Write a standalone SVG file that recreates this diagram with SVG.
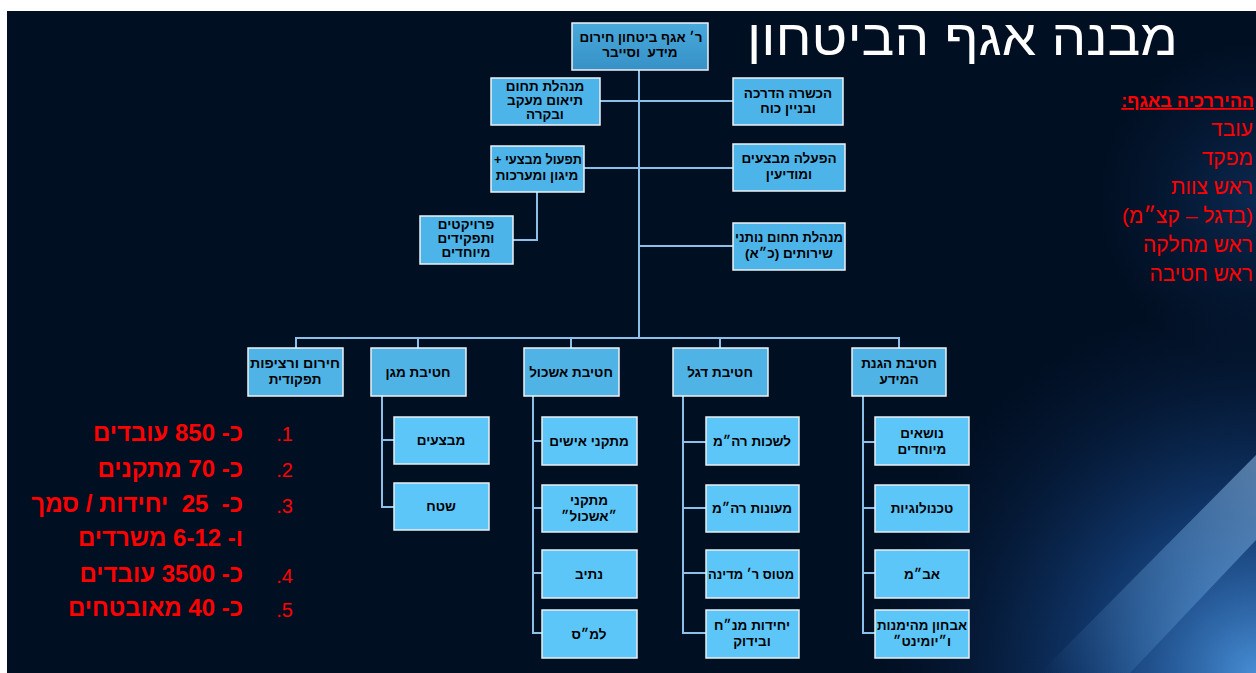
<svg xmlns="http://www.w3.org/2000/svg" width="1256" height="673" viewBox="0 0 1256 673">
<defs>
<radialGradient id="glow" cx="1256" cy="673" r="380" gradientUnits="userSpaceOnUse">
<stop offset="0" stop-color="#4f9be8" stop-opacity="0.9"/>
<stop offset="0.45" stop-color="#1f5cb0" stop-opacity="0.5"/>
<stop offset="1" stop-color="#0a2350" stop-opacity="0"/>
</radialGradient>
<linearGradient id="streak" x1="1040" y1="673" x2="1256" y2="470" gradientUnits="userSpaceOnUse">
<stop offset="0" stop-color="#6aaee8" stop-opacity="0"/>
<stop offset="0.6" stop-color="#7ab8f0" stop-opacity="0.35"/>
<stop offset="1" stop-color="#9ccaf5" stop-opacity="0.5"/>
</linearGradient>
<linearGradient id="topfill" x1="0" y1="0" x2="0" y2="1">
<stop offset="0" stop-color="#4aa9dc"/>
<stop offset="1" stop-color="#3591c6"/>
</linearGradient>
<radialGradient id="rightfade" cx="1256" cy="200" r="160" gradientUnits="userSpaceOnUse">
<stop offset="0" stop-color="#143e78" stop-opacity="0.55"/>
<stop offset="1" stop-color="#0b2a55" stop-opacity="0"/>
</radialGradient>
</defs>
<style>
.bx{fill:#4db4e9;stroke:#eef2f5;stroke-width:1.5}
.dv{fill:#4fb3e6;stroke:#eef2f5;stroke-width:1.5}
.sb{fill:#5cc6f9;stroke:#e8eef2;stroke-width:1.5}
.t{font-family:"Liberation Sans","DejaVu Sans",sans-serif;font-weight:bold;font-size:13.5px;fill:#000;text-anchor:middle;direction:rtl;unicode-bidi:embed}
.ln{stroke:#8cc0e8;stroke-width:2;fill:none}
.rl{font-family:"Liberation Sans","DejaVu Sans",sans-serif;font-size:21px;fill:#ff0000;direction:rtl;unicode-bidi:embed;text-anchor:start}
.rh{font-family:"Liberation Sans","DejaVu Sans",sans-serif;font-size:18px;font-weight:bold;fill:#ff0000;direction:rtl;unicode-bidi:embed;text-anchor:start;text-decoration:underline}
.ll{font-family:"Liberation Sans","DejaVu Sans",sans-serif;font-size:24px;font-weight:bold;fill:#ff0000;direction:rtl;unicode-bidi:embed;text-anchor:start}
.num{font-family:"Liberation Sans","DejaVu Sans",sans-serif;font-size:20px;fill:#ff0000;text-anchor:end}
</style>
<rect x="0" y="0" width="1256" height="673" fill="#ffffff"/>
<rect x="7" y="11" width="1249" height="662" fill="#010f22"/>
<rect x="1090" y="11" width="166" height="360" fill="url(#rightfade)"/>
<rect x="700" y="300" width="556" height="373" fill="url(#glow)"/>
<polygon points="1040,673 1256,455 1256,540 1130,673" fill="url(#streak)"/>

<text x="1178" y="55" font-family="'Liberation Sans','DejaVu Sans',sans-serif" font-size="50" fill="#ffffff" text-anchor="end" textLength="431" lengthAdjust="spacingAndGlyphs">מבנה אגף הביטחון</text>

<g id="connectors">
<line class="ln" x1="639" y1="70" x2="639" y2="338"/>
<line class="ln" x1="600" y1="101" x2="733" y2="101"/>
<line class="ln" x1="584" y1="168" x2="733" y2="168"/>
<polyline class="ln" points="537,192 537,240 513,240"/>
<line class="ln" x1="639" y1="246" x2="733" y2="246"/>
<line class="ln" x1="295" y1="338" x2="900" y2="338"/>
<line class="ln" x1="296" y1="338" x2="296" y2="348"/>
<line class="ln" x1="418" y1="338" x2="418" y2="348"/>
<line class="ln" x1="571" y1="338" x2="571" y2="348"/>
<line class="ln" x1="720" y1="338" x2="720" y2="348"/>
<line class="ln" x1="899" y1="338" x2="899" y2="348"/>
<polyline class="ln" points="382,396 382,507 394,507"/>
<line class="ln" x1="382" y1="440" x2="394" y2="440"/>
<polyline class="ln" points="533,396 533,633 542,633"/>
<line class="ln" x1="533" y1="441" x2="542" y2="441"/>
<line class="ln" x1="533" y1="508" x2="542" y2="508"/>
<line class="ln" x1="533" y1="573" x2="542" y2="573"/>
<polyline class="ln" points="683,396 683,633 706,633"/>
<line class="ln" x1="683" y1="442" x2="706" y2="442"/>
<line class="ln" x1="683" y1="508" x2="706" y2="508"/>
<line class="ln" x1="683" y1="573" x2="706" y2="573"/>
<polyline class="ln" points="863,396 863,633 875,633"/>
<line class="ln" x1="863" y1="442" x2="875" y2="442"/>
<line class="ln" x1="863" y1="508" x2="875" y2="508"/>
<line class="ln" x1="863" y1="573" x2="875" y2="573"/>
</g>

<g id="head">
<rect x="572" y="23" width="136" height="47" fill="url(#topfill)" stroke="#eef2f5" stroke-width="1.5"/>
<text class="t" x="641" y="42" textLength="123" lengthAdjust="spacingAndGlyphs">ר׳ אגף ביטחון חירום</text>
<text class="t" x="640" y="57" xml:space="preserve">מידע  וסייבר</text>
</g>
<g id="n-minhelet">
<rect class="bx" x="491" y="78" width="109" height="47"/>
<text class="t" x="545" y="91">מנהלת תחום</text>
<text class="t" x="545" y="105">תיאום מעקב</text>
<text class="t" x="545" y="119">ובקרה</text>
</g>
<g id="n-hachshara">
<rect class="bx" x="733" y="78" width="110" height="47"/>
<text class="t" x="788" y="98">הכשרה הדרכה</text>
<text class="t" x="788" y="113">ובניין כוח</text>
</g>
<g id="n-tiful">
<rect class="bx" x="491" y="146" width="93" height="46"/>
<text class="t" x="538" y="164" textLength="88" lengthAdjust="spacingAndGlyphs">תפעול מבצעי +</text>
<text class="t" x="537" y="180">מיגון ומערכות</text>
</g>
<g id="n-hafala">
<rect class="bx" x="733" y="144" width="112" height="47"/>
<text class="t" x="789" y="163">הפעלה מבצעים</text>
<text class="t" x="789" y="179">ומודיעין</text>
</g>
<g id="n-proyektim">
<rect class="bx" x="420" y="216" width="93" height="48"/>
<text class="t" x="466" y="229">פרויקטים</text>
<text class="t" x="466" y="243">ותפקידים</text>
<text class="t" x="466" y="257">מיוחדים</text>
</g>
<g id="n-notney">
<rect class="bx" x="733" y="223" width="112" height="47"/>
<text class="t" x="789" y="242" textLength="108" lengthAdjust="spacingAndGlyphs">מנהלת תחום נותני</text>
<text class="t" x="789" y="258">שירותים (כ״א)</text>
</g>

<g id="d-herum">
<rect class="dv" x="248" y="348" width="95" height="48"/>
<text class="t" x="295" y="368" textLength="90" lengthAdjust="spacingAndGlyphs">חירום ורציפות</text>
<text class="t" x="295" y="384">תפקודית</text>
</g>
<g id="d-magen">
<rect class="dv" x="371" y="348" width="95" height="48"/>
<text class="t" x="418" y="377">חטיבת מגן</text>
</g>
<g id="d-eshkol">
<rect class="dv" x="524" y="348" width="95" height="48"/>
<text class="t" x="571" y="377">חטיבת אשכול</text>
</g>
<g id="d-degel">
<rect class="dv" x="673" y="348" width="95" height="48"/>
<text class="t" x="720" y="377">חטיבת דגל</text>
</g>
<g id="d-hagana">
<rect class="dv" x="852" y="348" width="94" height="48"/>
<text class="t" x="899" y="368">חטיבת הגנת</text>
<text class="t" x="899" y="384">המידע</text>
</g>

<g id="s-mivtzaim"><rect class="sb" x="394" y="417" width="95" height="47"/><text class="t" x="441" y="445">מבצעים</text></g>
<g id="s-shetah"><rect class="sb" x="394" y="483" width="95" height="47"/><text class="t" x="441" y="511">שטח</text></g>

<g id="s-ishim"><rect class="sb" x="542" y="417" width="95" height="48"/><text class="t" x="589" y="446">מתקני אישים</text></g>
<g id="s-mitkaney"><rect class="sb" x="542" y="485" width="95" height="47"/><text class="t" x="589" y="505">מתקני</text><text class="t" x="589" y="521">״אשכול״</text></g>
<g id="s-nativ"><rect class="sb" x="542" y="550" width="95" height="48"/><text class="t" x="589" y="579">נתיב</text></g>
<g id="s-lamas"><rect class="sb" x="542" y="610" width="95" height="48"/><text class="t" x="589" y="639">למ״ס</text></g>

<g id="s-lishkot"><rect class="sb" x="706" y="417" width="93" height="48"/><text class="t" x="752" y="446">לשכות רה״מ</text></g>
<g id="s-meonot"><rect class="sb" x="706" y="485" width="93" height="47"/><text class="t" x="752" y="513">מעונות רה״מ</text></g>
<g id="s-matos"><rect class="sb" x="706" y="550" width="93" height="48"/><text class="t" x="751" y="579" textLength="86" lengthAdjust="spacingAndGlyphs">מטוס ר׳ מדינה</text></g>
<g id="s-mnah"><rect class="sb" x="706" y="610" width="93" height="48"/><text class="t" x="752" y="630">יחידות מנ״ח</text><text class="t" x="752" y="646">ובידוק</text></g>

<g id="s-nosim"><rect class="sb" x="875" y="417" width="94" height="48"/><text class="t" x="922" y="438">נושאים</text><text class="t" x="922" y="454">מיוחדים</text></g>
<g id="s-tech"><rect class="sb" x="875" y="485" width="94" height="47"/><text class="t" x="922" y="513">טכנולוגיות</text></g>
<g id="s-abam"><rect class="sb" x="875" y="550" width="94" height="48"/><text class="t" x="922" y="579">אב״מ</text></g>
<g id="s-ivhun"><rect class="sb" x="875" y="610" width="94" height="48"/><text class="t" x="922" y="630" textLength="90" lengthAdjust="spacingAndGlyphs">אבחון מהימנות</text><text class="t" x="922" y="646">ו״יומינט״</text></g>

<g id="hierarchy">
<text class="rh" x="1254" y="107">ההיררכיה באגף:</text>
<text class="rl" x="1253" y="136">עובד</text>
<text class="rl" x="1253" y="165">מפקד</text>
<text class="rl" x="1253" y="194">ראש צוות</text>
<text class="rl" x="1253" y="223">(בדגל – קצ״מ)</text>
<text class="rl" x="1253" y="252">ראש מחלקה</text>
<text class="rl" x="1253" y="281">ראש חטיבה</text>
</g>

<g id="facts">
<text class="num" x="293" y="441">.1</text>
<text class="ll" x="243" y="441">כ- 850 עובדים</text>
<text class="num" x="293" y="477">.2</text>
<text class="ll" x="243" y="477">כ- 70 מתקנים</text>
<text class="num" x="293" y="513">.3</text>
<text class="ll" x="243" y="512" xml:space="preserve">כ-  25  יחידות / סמך</text>
<text class="ll" x="243" y="546">ו- 6-12 משרדים</text>
<text class="num" x="293" y="583">.4</text>
<text class="ll" x="243" y="582">כ- 3500 עובדים</text>
<text class="num" x="293" y="617">.5</text>
<text class="ll" x="243" y="616">כ- 40 מאובטחים</text>
</g>
</svg>
